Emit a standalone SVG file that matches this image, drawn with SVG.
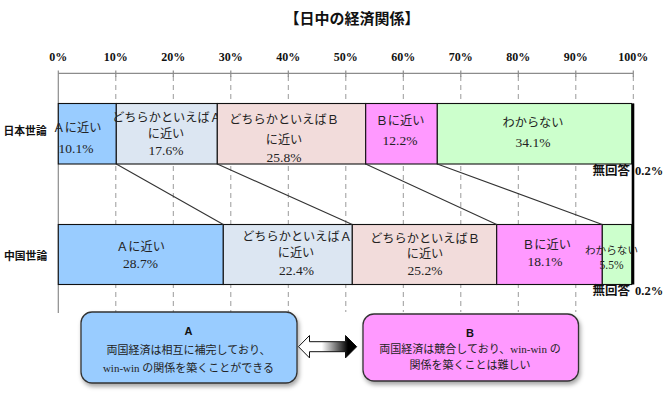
<svg xmlns="http://www.w3.org/2000/svg" width="670" height="404" viewBox="0 0 670 404">
<defs>
<style>
.t{font-family:"Liberation Serif","Noto Sans CJK JP",serif;fill:#222;dominant-baseline:central;text-anchor:middle}
.l{font-size:12.2px}
.n{font-size:13.5px}
.ax{font-family:"Liberation Serif","Noto Sans CJK JP",serif;font-weight:bold;font-size:12px;fill:#111;text-anchor:middle;dominant-baseline:central}
.row{font-family:"Noto Sans CJK JP","Liberation Sans",sans-serif;font-weight:bold;font-size:10.8px;fill:#111;dominant-baseline:central}
.na{font-family:"Liberation Serif","Noto Sans CJK JP",serif;font-weight:bold;font-size:12.5px;fill:#111;dominant-baseline:central}
.grid{stroke:#9a9a9a;stroke-width:1;stroke-dasharray:5 4;fill:none}
.axis{stroke:#8c8c8c;stroke-width:1.2;fill:none}
.seg{stroke:#111;stroke-width:1.1}
.conn{stroke:#333;stroke-width:1.1;fill:none}
.box{stroke:#333;stroke-width:1.3}
.bt{font-family:"Liberation Serif","Noto Sans CJK JP",serif;font-size:11px;fill:#222;text-anchor:middle;dominant-baseline:central}
.bh{font-family:"Liberation Sans",Arial,sans-serif;font-weight:bold;font-size:11px;fill:#111;text-anchor:middle;dominant-baseline:central}
</style>
<filter id="sh" x="-10%" y="-10%" width="130%" height="140%">
<feDropShadow dx="1.5" dy="3" stdDeviation="2" flood-color="#000" flood-opacity="0.35"/>
</filter>
<linearGradient id="ag" x1="0" y1="0" x2="1" y2="0">
<stop offset="0" stop-color="#fff"/>
<stop offset="0.4" stop-color="#fff"/>
<stop offset="0.85" stop-color="#000"/>
<stop offset="1" stop-color="#000"/>
</linearGradient>
</defs>
<rect width="670" height="404" fill="#fff"/>

<text x="352" y="17" style="font-family:'Noto Sans CJK JP',sans-serif;font-weight:bold;font-size:15px;fill:#111;text-anchor:middle;dominant-baseline:central">【日中の経済関係】</text>

<g id="axis">
<g class="ax">
<text x="58.3" y="56.7">0%</text>
<text x="115.8" y="56.7">10%</text>
<text x="173.3" y="56.7">20%</text>
<text x="230.8" y="56.7">30%</text>
<text x="288.3" y="56.7">40%</text>
<text x="345.8" y="56.7">50%</text>
<text x="403.3" y="56.7">60%</text>
<text x="460.8" y="56.7">70%</text>
<text x="518.3" y="56.7">80%</text>
<text x="575.8" y="56.7">90%</text>
<text x="633.3" y="56.7">100%</text>
</g>
<g class="grid">
<path d="M115.8 76V312M173.3 76V312M230.8 76V312M288.3 76V312M345.8 76V312M403.3 76V312M460.8 76V312M518.3 76V312M575.8 76V312M633.3 76V104"/>
</g>
<path class="axis" d="M58.3 73.3H633.3M58.3 70.5V313M115.8 70.5V77M173.3 70.5V77M230.8 70.5V77M288.3 70.5V77M345.8 70.5V77M403.3 70.5V77M460.8 70.5V77M518.3 70.5V77M575.8 70.5V77M633.3 70.5V77"/>
</g>

<g id="japan">
<text class="row" x="3.5" y="130">日本世論</text>
<g id="jp-a"><rect class="seg" x="58.3" y="103.5" width="58" height="60.5" fill="#99CCFF"/>
<text class="t l" x="77" y="128">Ａに近い</text><text class="t n" x="76" y="148">10.1%</text></g>
<g id="jp-ra"><rect class="seg" x="116.3" y="103.5" width="101" height="60.5" fill="#DCE6F2"/>
<text class="t l" x="167" y="118">どちらかといえばＡ</text><text class="t l" x="166" y="134">に近い</text><text class="t n" x="166" y="150">17.6%</text></g>
<g id="jp-rb"><rect class="seg" x="217.3" y="103.5" width="148.4" height="60.5" fill="#F2DCDB"/>
<text class="t l" x="284" y="120">どちらかといえばＢ</text><text class="t l" x="284" y="139.5">に近い</text><text class="t n" x="284" y="157">25.8%</text></g>
<g id="jp-b"><rect class="seg" x="365.7" y="103.5" width="71.6" height="60.5" fill="#FF99FF"/>
<text class="t l" x="400" y="121">Ｂに近い</text><text class="t n" x="400" y="140">12.2%</text></g>
<g id="jp-dk"><rect class="seg" x="437.3" y="103.5" width="194.4" height="60.5" fill="#CCFFCC"/>
<text class="t l" x="533" y="123">わからない</text><text class="t n" x="533" y="142">34.1%</text></g>
<text class="na" x="592.5" y="171">無回答<tspan x="635">0.2%</tspan></text>
</g>

<g id="china">
<text class="row" x="4" y="255">中国世論</text>
<g id="cn-a"><rect class="seg" x="58.3" y="224.5" width="165" height="60" fill="#99CCFF"/>
<text class="t l" x="140.5" y="246.7">Ａに近い</text><text class="t n" x="140.5" y="263.3">28.7%</text></g>
<g id="cn-ra"><rect class="seg" x="223.3" y="224.5" width="129" height="60" fill="#DCE6F2"/>
<text class="t l" x="297" y="236.7">どちらかといえばＡ</text><text class="t l" x="296" y="253">に近い</text><text class="t n" x="296.5" y="270">22.4%</text></g>
<g id="cn-rb"><rect class="seg" x="352.3" y="224.5" width="144.4" height="60" fill="#F2DCDB"/>
<text class="t l" x="425" y="239">どちらかといえばＢ</text><text class="t l" x="425" y="253.5">に近い</text><text class="t n" x="425" y="270.7">25.2%</text></g>
<g id="cn-b"><rect class="seg" x="496.7" y="224.5" width="105.6" height="60" fill="#FF99FF"/>
<text class="t l" x="546.5" y="245">Ｂに近い</text><text class="t n" x="545" y="261.7">18.1%</text></g>
<g id="cn-dk"><rect class="seg" x="602.3" y="224.5" width="29.4" height="60" fill="#CCFFCC"/>
<text class="t" style="font-size:10.6px" x="611.5" y="250">わからない</text><text class="t" style="font-size:11.5px" x="611.5" y="265">5.5%</text></g>
<text class="na" x="592.5" y="290.7">無回答<tspan x="635">0.2%</tspan></text>
</g>

<g id="connectors">
<path class="conn" d="M116.3 164L223.3 224.5M217.3 164L352.3 224.5M365.7 164L496.7 224.5M437.3 164L602.3 224.5"/>
<path d="M633 103.5V284.5" stroke="#000" stroke-width="2.6" fill="none"/>
</g>

<g id="boxA">
<rect class="box" x="81" y="312" width="216" height="71" rx="11" fill="#99CCFF" filter="url(#sh)"/>
<text class="bh" x="188.5" y="330.7">A</text>
<text class="bt" x="188.5" y="350">両国経済は相互に補完しており、</text>
<text class="bt" x="188.5" y="368.3">win-win の関係を築くことができる</text>
</g>

<g id="boxB">
<rect class="box" x="363" y="314" width="215.5" height="67" rx="11" fill="#FF99FF" filter="url(#sh)"/>
<text class="bh" x="470" y="333.3">B</text>
<text class="bt" x="470" y="349.3">両国経済は競合しており、win-win の</text>
<text class="bt" x="470" y="364.5">関係を築くことは難しい</text>
</g>

<g id="arrow">
<path d="M298.5 346.7L309.5 335.5V341.7H345.5V335.5L356.7 346.7L345.5 357.9V351.7H309.5V357.9Z" fill="url(#ag)" stroke="#111" stroke-width="1"/>
</g>
</svg>
